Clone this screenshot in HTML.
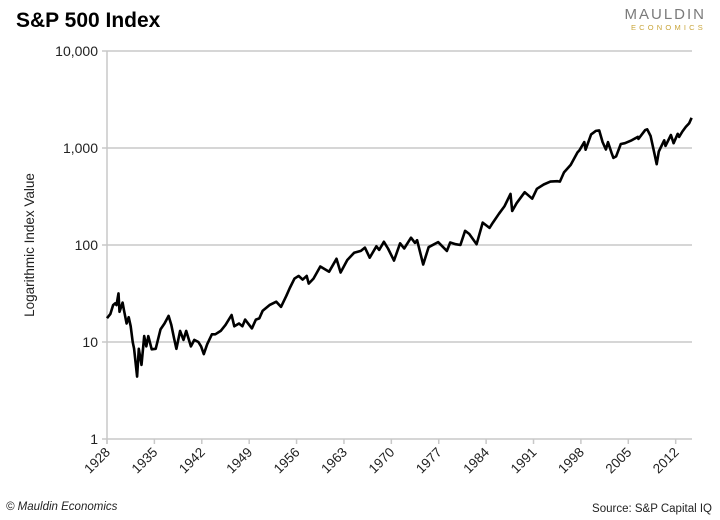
<!DOCTYPE html>
<html><head><meta charset="utf-8"><style>
body{margin:0;background:#fff;width:720px;height:520px;overflow:hidden;font-family:"Liberation Sans",sans-serif}
svg{display:block}
</style></head><body>
<svg id="chart" width="720" height="520">
<text x="16" y="27" font-size="21" font-weight="bold" fill="#000">S&amp;P 500 Index</text>
<g>
<text x="706" y="19" text-anchor="end" font-size="15" fill="#7a7a7a" letter-spacing="2">MAULDIN</text>
<text x="706" y="30" text-anchor="end" font-size="7.5" fill="#c9a53a" letter-spacing="3.2">ECONOMICS</text>
</g>
<text transform="translate(34,245) rotate(-90)" text-anchor="middle" font-size="13.5" fill="#222">Logarithmic Index Value</text>
<g id="grid"></g><g id="xaxis"></g>
<path id="line" fill="none" stroke="#000" stroke-width="2.6" stroke-linejoin="round"></path>
<text x="6" y="510" font-size="11.5" font-style="italic" fill="#222">© Mauldin Economics</text>
<text x="712" y="512" text-anchor="end" font-size="11.5" fill="#222">Source: S&amp;P Capital IQ</text>
</svg>
<script>
const yTicks=[1,10,100,1000,10000];
const yTickLabels=["1","10","100","1,000","10,000"];
const xTicks=[1928,1935,1942,1949,1956,1963,1970,1977,1984,1991,1998,2005,2012];
const years=[1928.0,1928.5,1928.9,1929.2,1929.4,1929.7,1929.85,1930.0,1930.3,1930.5,1930.9,1931.2,1931.5,1931.8,1932.0,1932.45,1932.7,1933.1,1933.5,1933.8,1934.1,1934.6,1935.2,1935.9,1936.5,1937.1,1937.5,1937.9,1938.25,1938.8,1939.3,1939.7,1940.4,1940.9,1941.5,1941.9,1942.3,1942.8,1943.5,1944.0,1944.8,1945.5,1946.4,1946.8,1947.5,1948.0,1948.4,1949.4,1950.0,1950.5,1951.0,1952.0,1953.0,1953.7,1954.5,1955.0,1955.7,1956.3,1956.9,1957.5,1957.8,1958.5,1959.5,1960.8,1961.9,1962.5,1963.5,1964.5,1965.5,1966.1,1966.8,1967.8,1968.2,1968.9,1969.5,1970.4,1971.3,1971.9,1972.9,1973.5,1973.8,1974.7,1975.5,1976.9,1978.2,1978.7,1979.5,1980.2,1980.9,1981.5,1982.6,1983.5,1984.5,1985.0,1985.9,1986.7,1987.6,1987.85,1988.5,1989.7,1990.8,1991.5,1992.5,1993.5,1994.5,1994.9,1995.5,1996.5,1997.5,1997.8,1998.5,1998.7,1999.5,2000.2,2000.7,2001.2,2001.7,2002.0,2002.5,2002.8,2003.2,2003.9,2004.5,2005.5,2006.4,2006.5,2007.5,2007.8,2008.3,2008.9,2009.2,2009.5,2010.3,2010.5,2011.3,2011.7,2012.3,2012.5,2013.0,2013.5,2014.0,2014.35];
const values=[17.6,19.5,24,25,24,31.7,20.5,22,25.5,21.5,15.5,18,14.5,10,8.5,4.4,8.5,5.8,11.5,9,11.5,8.4,8.5,13.5,15.5,18.6,15,11,8.5,13,10.5,13,9,10.5,10,9,7.5,9.5,12,12,13,15,19,14.5,15.5,14.5,17,13.8,17,17.5,21,24,26,23,30,36,45,48,44,48,40,45,60,53,72,52,70,83,87,94,74,97,89,108,92,69,104,92,119,105,112,63,95,107,87,106,102,100,140,130,102,170,150,170,210,250,336,224,270,350,300,380,420,450,455,450,560,670,900,950,1150,960,1380,1500,1520,1150,965,1150,900,790,820,1100,1120,1200,1300,1240,1530,1560,1330,850,680,920,1200,1050,1360,1120,1400,1300,1480,1650,1800,2050];
const X0=107,X1=692,Y0=439,DEC=97,YR0=1928,PXY=6.77;
const xs=y=>X0+(y-YR0)*PXY;
const ys=v=>Y0-Math.log10(v)*DEC;
const NS="http://www.w3.org/2000/svg";
const grid=document.getElementById('grid'),xa=document.getElementById('xaxis');
function mk(t,a,p){const e=document.createElementNS(NS,t);for(const k in a)e.setAttribute(k,a[k]);p.appendChild(e);return e;}
const ax=mk('line',{x1:X0,x2:X0,y1:ys(10000),y2:Y0+5,stroke:'#c8c8c8','stroke-width':1.5},grid);


yTicks.forEach((v,i)=>{
 const l=mk('line',{x1:X0-5,x2:X1,y1:ys(v),y2:ys(v),stroke:'#c8c8c8','stroke-width':1.5},grid);
 
 
 const t=mk('text',{x:X0-9,y:ys(v)+5,'text-anchor':'end','font-size':14,fill:'#222'},grid);
 t.textContent=yTickLabels[i];
 
 
});
xTicks.forEach(yr=>{
 const x=xs(yr);
 const l=mk('line',{x1:x,x2:x,y1:Y0,y2:Y0+5,stroke:'#c8c8c8','stroke-width':1.5},xa);
 
 
 const t=mk('text',{x:x+4,y:Y0+14,'text-anchor':'end','font-size':13.5,fill:'#222',transform:`rotate(-45 ${x+4} ${Y0+14})`},xa);
 t.textContent=yr;
 
 
});
document.getElementById('line').setAttribute('d',years.map((y,i)=>(i?'L':'M')+xs(y).toFixed(1)+','+ys(values[i]).toFixed(1)).join(''));
</script>
</body></html>
